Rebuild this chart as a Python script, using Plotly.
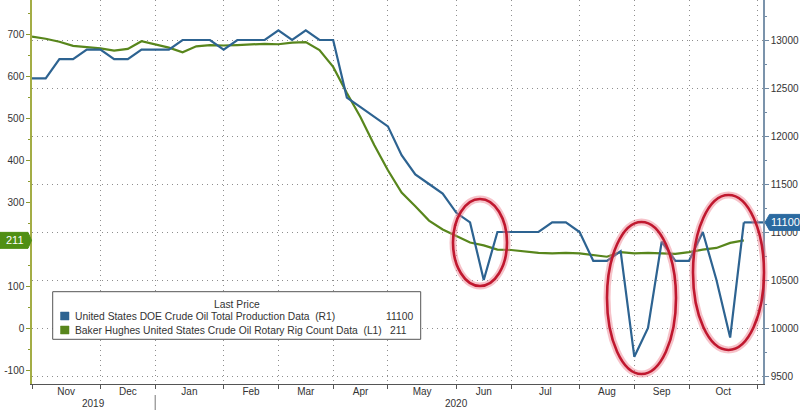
import plotly.graph_objects as go
import pandas as pd

# ---------------- data ----------------
week_start = "2019-10-25"      # first weekly observation
axis_week_slots = 54           # weekly slots shown on the time axis
production_name = "United States DOE Crude Oil Total Production Data  (R1)"
rigs_name = "Baker Hughes United States Crude Oil Rotary Rig Count Data  (L1)"
legend_title = "Last Price"

# US crude production, thousand b/d (right axis)
production = [12600, 12600, 12800, 12800, 12900, 12900, 12800, 12800, 12900, 12900,
              12900, 13000, 13000, 13000, 12900, 13000, 13000, 13000, 13100, 13000,
              13100, 13000, 13000, 12400, 12300, 12200, 12100, 11800, 11600, 11500,
              11400, 11200, 11100, 10500, 11000, 11000, 11000, 11000, 11100, 11100,
              11000, 10700, 10700, 10800, 9700, 10000, 10900, 10700, 10700, 11000,
              10500, 9900, 11100]
# Baker Hughes oil rig count (left axis)
rigs = [696, 691, 684, 674, 671, 668, 663, 667, 685, 677,
        670, 659, 673, 676, 675, 676, 678, 679, 678, 682,
        683, 664, 624, 562, 504, 438, 378, 325, 292, 258,
        237, 222, 206, 199, 189, 188, 185, 181, 180, 181,
        180, 176, 172, 183, 180, 181, 180, 179, 183, 189,
        193, 205, 211]

left_ticks = [-100, 0, 100, 200, 300, 400, 500, 600, 700]
right_ticks = [9500, 10000, 10500, 11000, 11500, 12000, 12500, 13000]

# ---------------- styling / geometry ----------------
W, H = 800, 410
ML, MR, MT, MB = 32, 37, 0, 26
PW, PH = W - ML - MR, H - MT - MB
FONT = "Liberation Sans, Arial, sans-serif"
BLUE = "#2d6391"
GREEN = "#58861c"
GRID = "#8e8e8e"
GRID_DASH = "1px,4px"
TXT = "#333333"
LEG_FS = 10.3
X_RANGE = [0, 53.4]
YL_RANGE = [-131, 783.3]
YR_RANGE = [9416.7, 13416.7]


def px(x):
    return (x - ML) / PW


def py(y):
    return (H - MB - y) / PH


def frac(v, rng):
    return (v - rng[0]) / (rng[1] - rng[0])


weeks = pd.date_range(week_start, periods=axis_week_slots, freq="7D")
x_idx = list(range(len(production)))

# month boundaries = last weekly slot of each month
boundaries = [i for i, d in enumerate(weeks)
              if i == len(weeks) - 1 or weeks[i + 1].month != d.month]
month_pos, month_txt, month_year = [], [], []
for b0, b1 in zip(boundaries[:-1], boundaries[1:]):
    month_pos.append((b0 + b1) / 2)
    month_txt.append(weeks[b1].strftime("%b"))
    month_year.append((weeks[b1].year, b0, b1))

years = {}
for yr, b0, b1 in month_year:
    if yr not in years:
        years[yr] = [b0, b1]
    else:
        years[yr][1] = b1

fig = go.Figure()
fig.add_trace(go.Scatter(x=x_idx, y=rigs, mode="lines", name=rigs_name,
                         line=dict(color=GREEN, width=2.2), yaxis="y",
                         showlegend=False, hoverinfo="skip"))
fig.add_trace(go.Scatter(x=x_idx, y=production, mode="lines", name=production_name,
                         line=dict(color=BLUE, width=2.2), yaxis="y2",
                         showlegend=False, hoverinfo="skip"))
# helper trace so the month-label axis exists
fig.add_trace(go.Scatter(x=month_pos, y=[None] * len(month_pos), xaxis="x2",
                         yaxis="y", showlegend=False, hoverinfo="skip"))

fig.update_layout(
    template="none",
    width=W, height=H,
    margin=dict(l=ML, r=MR, t=MT, b=MB, pad=0, autoexpand=False),
    paper_bgcolor="white", plot_bgcolor="white",
    font=dict(family=FONT, size=10, color=TXT),
    showlegend=False,
    xaxis=dict(range=X_RANGE, tickvals=boundaries, ticktext=[""] * len(boundaries),
               ticks="outside", ticklen=4, tickcolor="#555", showgrid=True,
               gridcolor=GRID, griddash=GRID_DASH, gridwidth=1, showline=True,
               linecolor="#555", linewidth=1, zeroline=False, automargin=False),
    xaxis2=dict(range=X_RANGE, overlaying="x", anchor="y", side="bottom",
                tickvals=month_pos, ticktext=month_txt, ticks="", showgrid=False,
                showline=False, zeroline=False, automargin=False,
                tickfont=dict(size=10, color=TXT)),
    yaxis=dict(range=YL_RANGE, tickvals=left_ticks, ticktext=[str(v) for v in left_ticks],
               ticks="outside", ticklen=4,
               tickcolor="#8c9a2e", showgrid=False, showline=True,
               linecolor="#a3ad45", linewidth=1.5, zeroline=False, automargin=False,
               minor=dict(dtick=50, ticks="outside", ticklen=2, tickcolor="#8c9a2e"),
               tickfont=dict(size=10, color=TXT)),
    yaxis2=dict(range=YR_RANGE, overlaying="y", side="right", anchor="x",
                tickvals=right_ticks, ticktext=[str(v) for v in right_ticks],
                ticks="outside", ticklen=4, tickcolor="#6f88a3",
                showgrid=True, gridcolor=GRID, griddash=GRID_DASH, gridwidth=1,
                showline=True, linecolor="#7b93ab", linewidth=1.5, zeroline=False,
                automargin=False,
                minor=dict(dtick=250, ticks="outside", ticklen=2, tickcolor="#6f88a3"),
                tickfont=dict(size=10, color=TXT)),
)

shapes = []
annotations = []

# blue line continues to the last-price tag
shapes.append(dict(type="line", xref="x", yref="y2", x0=x_idx[-1], x1=X_RANGE[1],
                   y0=production[-1], y1=production[-1],
                   line=dict(color=BLUE, width=2.2), layer="above"))

# last-price tags
hh = 8 / PH
yg = frac(rigs[-1], YL_RANGE)
x0g, x1g, xtg = px(0), px(28), px(31.5)
shapes.append(dict(type="path", xref="paper", yref="paper", layer="above",
                   path=f"M {x0g},{yg+hh} L {x1g},{yg+hh} L {xtg},{yg} L {x1g},{yg-hh} L {x0g},{yg-hh} Z",
                   fillcolor="#4f8f14", line=dict(color="#4f8f14", width=1)))
annotations.append(dict(xref="paper", yref="paper", x=px(15), y=yg, text=str(rigs[-1]),
                        showarrow=False, xanchor="center", yanchor="middle",
                        font=dict(color="white", size=11, family=FONT)))

yb = frac(production[-1], YR_RANGE)
xtb, x1b, x2b = px(765), px(769.5), px(801)
shapes.append(dict(type="path", xref="paper", yref="paper", layer="above",
                   path=f"M {xtb},{yb} L {x1b},{yb+hh} L {x2b},{yb+hh} L {x2b},{yb-hh} L {x1b},{yb-hh} Z",
                   fillcolor="#2b6aa0", line=dict(color="#2b6aa0", width=1)))
annotations.append(dict(xref="paper", yref="paper", x=px(785), y=yb, text=str(production[-1]),
                        showarrow=False, xanchor="center", yanchor="middle",
                        font=dict(color="white", size=11, family=FONT)))

# legend box
shapes.append(dict(type="rect", xref="paper", yref="paper", layer="above",
                   x0=px(52.7), x1=px(420.7), y0=py(291.7), y1=py(339.3),
                   fillcolor="white", line=dict(color="#555", width=1)))
annotations.append(dict(xref="paper", yref="paper", x=px(237), y=py(304),
                        text=legend_title, showarrow=False, xanchor="center",
                        yanchor="middle", font=dict(size=LEG_FS, color=TXT)))
for name, color, val, ycen, val_anchor, val_x in [
        (production_name, BLUE, production[-1], 316, "right", 415),
        (rigs_name, GREEN, rigs[-1], 330, "left", 388)]:
    shapes.append(dict(type="rect", xref="paper", yref="paper", layer="above",
                       x0=px(60.5), x1=px(69), y0=py(ycen - 4), y1=py(ycen + 4),
                       fillcolor=color, line=dict(color=color, width=0.5)))
    annotations.append(dict(xref="paper", yref="paper", x=px(72.5), y=py(ycen),
                            text=name, showarrow=False, xanchor="left",
                            yanchor="middle", font=dict(size=LEG_FS, color=TXT)))
    annotations.append(dict(xref="paper", yref="paper", x=px(val_x), y=py(ycen),
                            text=str(val), showarrow=False, xanchor=val_anchor,
                            yanchor="middle", font=dict(size=LEG_FS, color=TXT)))

# year labels and separator
for yr, (b0, b1) in years.items():
    annotations.append(dict(xref="x", yref="paper", x=(b0 + b1) / 2, y=py(403),
                            text=str(yr), showarrow=False, xanchor="center",
                            yanchor="middle", font=dict(size=10, color=TXT)))
first_year_end = list(years.values())[0][1]
shapes.append(dict(type="line", xref="x", yref="paper", x0=first_year_end,
                   x1=first_year_end, y0=py(395), y1=py(410),
                   line=dict(color="#777", width=1)))

# red hand-drawn highlight ellipses
for (ex0, ex1, ey0, ey1) in [(453, 507, 199, 286), (607, 676, 222, 374), (693, 764, 195, 350)]:
    shapes.append(dict(type="circle", xref="paper", yref="paper", layer="above",
                       x0=px(ex0), x1=px(ex1), y0=py(ey1), y1=py(ey0),
                       line=dict(color="rgba(235,120,135,0.45)", width=7)))
    shapes.append(dict(type="circle", xref="paper", yref="paper", layer="above",
                       x0=px(ex0), x1=px(ex1), y0=py(ey1), y1=py(ey0),
                       line=dict(color="#c0182f", width=2.6)))

fig.update_layout(shapes=shapes, annotations=annotations)
fig.write_html("out.html", config={"displayModeBar": False},
               post_script="document.body.style.margin='0';document.body.style.overflow='hidden';")
